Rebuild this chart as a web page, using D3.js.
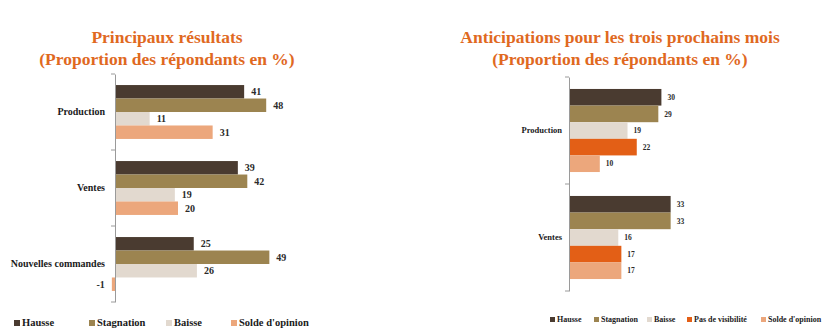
<!DOCTYPE html>
<html><head><meta charset="utf-8">
<script src="https://cdn.jsdelivr.net/npm/d3@7"></script>
<style>
html,body{margin:0;padding:0;background:#fff;}
svg{display:block;font-family:"Liberation Serif","DejaVu Serif",serif;font-weight:bold;}
</style></head>
<body>
<svg id="chart" width="827" height="336"></svg>
<script>
// ---- Data ----
const leftTitle = ["Principaux résultats", "(Proportion des répondants en %)"];
const leftCategories = ["Production", "Ventes", "Nouvelles commandes"];
const leftSeries = ["Hausse", "Stagnation", "Baisse", "Solde d'opinion"];
const leftHausse = [41, 39, 25];
const leftStagnation = [48, 42, 49];
const leftBaisse = [11, 19, 26];
const leftSolde = [31, 20, -1];

const rightTitle = ["Anticipations pour les trois prochains mois", "(Proportion des répondants en %)"];
const rightCategories = ["Production", "Ventes"];
const rightSeries = ["Hausse", "Stagnation", "Baisse", "Pas de visibilité", "Solde d'opinion"];
const rightHausse = [30, 33];
const rightStagnation = [29, 33];
const rightBaisse = [19, 16];
const rightPas = [22, 17];
const rightSolde = [10, 17];

const colors = {
  "Hausse": "#4a3b30",
  "Stagnation": "#9c8450",
  "Baisse": "#e2d9cf",
  "Pas de visibilité": "#e35f16",
  "Solde d'opinion": "#eca77c"
};
const titleColor = "#e0691f";

const svg = d3.select("#chart");

function drawChart(cfg) {
  const g = svg.append("g");
  g.selectAll("text.title").data(cfg.title).join("text")
    .attr("class", "title")
    .attr("x", cfg.titleX).attr("y", (d, i) => cfg.titleY + i * 22)
    .attr("text-anchor", "middle").attr("fill", titleColor)
    .attr("font-size", cfg.titleSize).text(d => d);

  const x = d3.scaleLinear().domain(cfg.xDomain).range(cfg.xRange);
  const y0 = d3.scaleBand().domain(cfg.categories).range(cfg.yRange).padding(0);
  const y1 = d3.scaleBand().domain(cfg.series).range([0, y0.bandwidth()])
    .paddingInner(0).paddingOuter(cfg.pad);

  const rows = [];
  cfg.categories.forEach((c, ci) => {
    cfg.series.forEach((s, si) => {
      rows.push({cat: c, ser: s, v: cfg.values[si][ci]});
    });
  });

  g.selectAll("rect.bar").data(rows).join("rect")
    .attr("class", "bar")
    .attr("x", d => x(Math.min(0, d.v)))
    .attr("y", d => y0(d.cat) + y1(d.ser))
    .attr("width", d => Math.abs(x(d.v) - x(0)))
    .attr("height", y1.bandwidth())
    .attr("fill", d => colors[d.ser]);

  g.selectAll("text.val").data(rows).join("text")
    .attr("class", "val")
    .attr("x", d => d.v >= 0 ? x(d.v) + cfg.labelGap : x(d.v) - cfg.labelGap)
    .attr("y", d => y0(d.cat) + y1(d.ser) + y1.bandwidth() / 2)
    .attr("dy", "0.35em")
    .attr("text-anchor", d => d.v >= 0 ? "start" : "end")
    .attr("font-size", cfg.valSize).attr("fill", "#2a2a2a")
    .text(d => d.v);

  const axis = d3.axisLeft(y0).tickSize(0).tickPadding(cfg.catPad);
  const ag = g.append("g").attr("transform", `translate(${x(0)},0)`).call(axis);
  ag.attr("font-family", null).attr("font-size", null);
  ag.select(".domain").attr("stroke", "#9a9a9a");
  ag.selectAll(".tick text").attr("font-size", cfg.catSize).attr("fill", "#1a1a1a");
  const bounds = cfg.categories.map(c => y0(c)).concat([cfg.yRange[1]]);
  ag.selectAll("line.bt").data(bounds).join("line")
    .attr("class", "bt")
    .attr("x1", -4).attr("x2", 0).attr("y1", d => d).attr("y2", d => d)
    .attr("stroke", "#9a9a9a");

  const lg = g.selectAll("g.leg").data(cfg.series).join("g")
    .attr("class", "leg")
    .attr("transform", (d, i) => `translate(${cfg.legendX[i]},${cfg.legendY})`);
  lg.append("rect").attr("x", 0).attr("y", -cfg.legSq).attr("width", cfg.legSq).attr("height", cfg.legSq)
    .attr("fill", d => colors[d]);
  lg.append("text").attr("x", cfg.legSq + 2).attr("y", 0).attr("font-size", cfg.legSize)
    .attr("fill", "#1a1a1a").text(d => d);
}

drawChart({
  title: leftTitle, titleX: 167, titleY: 43, titleSize: 17.5,
  categories: leftCategories, series: leftSeries,
  values: [leftHausse, leftStagnation, leftBaisse, leftSolde],
  xDomain: [0, 50], xRange: [115, 272.5], yRange: [74, 302], pad: 0.82,
  labelGap: 7, valSize: 10, catSize: 10, catPad: 10,
  legendX: [14, 89, 166, 231], legendY: 326, legSq: 6, legSize: 10.5
});

drawChart({
  title: rightTitle, titleX: 620, titleY: 43, titleSize: 17.5,
  categories: rightCategories, series: rightSeries,
  values: [rightHausse, rightStagnation, rightBaisse, rightPas, rightSolde],
  xDomain: [0, 35], xRange: [569, 676.8], yRange: [77, 291], pad: 0.72,
  labelGap: 6, valSize: 7.5, catSize: 8.5, catPad: 7,
  legendX: [550, 594, 647, 687, 761], legendY: 322, legSq: 5, legSize: 8
});
</script>
</body></html>
